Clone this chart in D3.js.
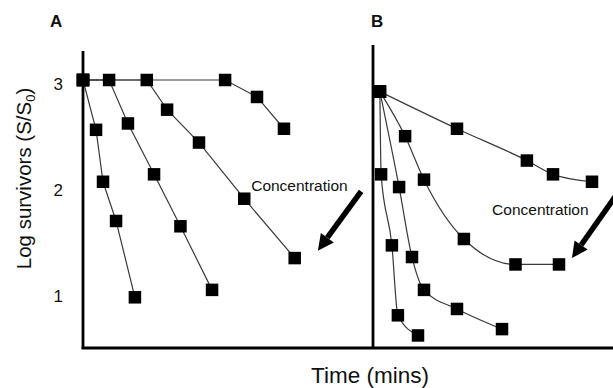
<!DOCTYPE html>
<html>
<head>
<meta charset="utf-8">
<script src="https://cdn.jsdelivr.net/npm/d3@7"></script>
<style>
  html, body { margin: 0; padding: 0; background: #fff; }
  svg { display: block; }
  text { font-family: "Liberation Sans", Arial, Helvetica, sans-serif; fill: #111; }
</style>
</head>
<body>
<svg id="chart" width="613" height="388"></svg>
<script>
// ---------- data ----------
const yTicks = [1, 2, 3];
const panelLabels = ["A", "B"];
const xAxisTitle = "Time (mins)";
const annotationText = "Concentration";

// Panel A: time (arbitrary units) and log survivors
const aSeries1T = [0, 4.5, 6.9, 11.4, 17.9];
const aSeries1V = [3, 2.53, 2.04, 1.67, 0.95];
const aSeries2T = [0, 9, 15.5, 24.5, 33.6, 44.5];
const aSeries2V = [3, 3, 2.59, 2.11, 1.62, 1.02];
const aSeries3T = [0, 22, 29, 40, 55.6, 73];
const aSeries3V = [3, 3, 2.72, 2.41, 1.88, 1.32];
const aSeries4T = [0, 49, 60, 69.3];
const aSeries4V = [3, 3, 2.84, 2.54];

// Panel B
const bSeries1T = [2.3, 28, 51.3, 60, 73];
const bSeries1V = [2.89, 2.54, 2.24, 2.11, 2.04];
const bSeries2T = [2.3, 10.7, 17, 30.3, 47.5, 62];
const bSeries2V = [2.89, 2.47, 2.06, 1.50, 1.26, 1.26];
const bSeries3T = [2.3, 8.7, 13, 17, 28, 43];
const bSeries3V = [2.89, 1.99, 1.33, 1.02, 0.84, 0.65];
const bSeries4T = [2.3, 2.7, 6.3, 8.3, 15];
const bSeries4V = [2.89, 2.11, 1.44, 0.78, 0.59];

// annotation arrows (data units: [t, v] tail -> tip)
const arrowA = [[95.9, 1.95], [81, 1.39]];
const arrowB = [[81, 1.91], [66.3, 1.32]];
const labelAPos = [58, 1.95];
const labelBPos = [39.7, 1.73];

// ---------- layout ----------
const svg = d3.select("#chart");
const yBase = 348;          // x-axis line
const yScale = d3.scaleLinear().domain([1, 3]).range([292, 80]);
const xA = d3.scaleLinear().domain([0, 100]).range([83, 373]);
const xB = d3.scaleLinear().domain([0, 80]).range([373, 613]);

const zip = (t, v) => t.map((d, i) => [d, v[i]]);
const panelA = [zip(aSeries1T, aSeries1V), zip(aSeries2T, aSeries2V), zip(aSeries3T, aSeries3V), zip(aSeries4T, aSeries4V)];
const panelB = [zip(bSeries1T, bSeries1V), zip(bSeries2T, bSeries2V), zip(bSeries3T, bSeries3V), zip(bSeries4T, bSeries4V)];

const sq = 12.5;

function drawPanel(data, xs, curve) {
  const g = svg.append("g");
  const line = d3.line().x(d => xs(d[0])).y(d => yScale(d[1])).curve(curve);
  g.selectAll("path.s").data(data).join("path")
    .attr("class", "s")
    .attr("d", line)
    .attr("fill", "none")
    .attr("stroke", "#3a3a3a")
    .attr("stroke-width", 1.2);
  g.selectAll("g.pts").data(data).join("g").attr("class", "pts")
    .selectAll("rect").data(d => d).join("rect")
    .attr("x", d => xs(d[0]) - sq / 2)
    .attr("y", d => yScale(d[1]) - sq / 2)
    .attr("width", sq).attr("height", sq)
    .attr("fill", "#000");
}

drawPanel(panelA, xA, d3.curveLinear);
drawPanel(panelB, xB, d3.curveMonotoneX);

// axes lines
svg.append("line").attr("x1", xA(0)).attr("x2", xA(0)).attr("y1", 51).attr("y2", yBase + 1)
  .attr("stroke", "#000").attr("stroke-width", 2.8);
svg.append("line").attr("x1", xB(0)).attr("x2", xB(0)).attr("y1", 45).attr("y2", yBase + 1)
  .attr("stroke", "#000").attr("stroke-width", 2.8);
svg.append("line").attr("x1", xA(0) - 1.4).attr("x2", 613).attr("y1", yBase).attr("y2", yBase)
  .attr("stroke", "#000").attr("stroke-width", 2.8);

// y tick labels via axis
const yAxis = d3.axisLeft(yScale).tickValues(yTicks).tickSize(0).tickPadding(20).tickFormat(d3.format("d"));
const ga = svg.append("g").attr("transform", `translate(${xA(0)},4)`).call(yAxis);
ga.select(".domain").remove();
ga.selectAll("text").attr("font-size", 17).style("font-family", '"Liberation Sans", Arial, sans-serif').attr("fill", "#111");

// y title
const yt = svg.append("text")
  .attr("transform", "translate(31,178.5) rotate(-90)")
  .attr("text-anchor", "middle")
  .attr("font-size", 20.5);
yt.append("tspan").text("Log survivors (S/S");
yt.append("tspan").attr("font-size", 13).attr("dy", 4).text("0");
yt.append("tspan").attr("dy", -4).text(")");

// x title
svg.append("text").attr("x", 370).attr("y", 383).attr("text-anchor", "middle")
  .attr("font-size", 22.5).text(xAxisTitle);

// panel letters
svg.append("text").attr("x", 50).attr("y", 27).attr("font-size", 17).attr("font-weight", "bold").text(panelLabels[0]);
svg.append("text").attr("x", 371).attr("y", 27).attr("font-size", 17).attr("font-weight", "bold").text(panelLabels[1]);

// annotations
svg.append("text").attr("x", xA(labelAPos[0])).attr("y", yScale(labelAPos[1])).attr("font-size", 15.5).text(annotationText);
svg.append("text").attr("x", xB(labelBPos[0])).attr("y", yScale(labelBPos[1])).attr("font-size", 15.5).text(annotationText);

function arrow(p, xs) {
  const x1 = xs(p[0][0]), y1 = yScale(p[0][1]);
  const x2 = xs(p[1][0]), y2 = yScale(p[1][1]);
  const ang = Math.atan2(y2 - y1, x2 - x1);
  const headLen = 16, headW = 8;
  const bx = x2 - headLen * Math.cos(ang), by = y2 - headLen * Math.sin(ang);
  svg.append("line").attr("x1", x1).attr("y1", y1).attr("x2", bx).attr("y2", by)
    .attr("stroke", "#000").attr("stroke-width", 5.5);
  const nx = -Math.sin(ang), ny = Math.cos(ang);
  svg.append("path")
    .attr("d", `M${x2},${y2}L${bx + nx * headW},${by + ny * headW}L${bx - nx * headW},${by - ny * headW}Z`)
    .attr("fill", "#000");
}
arrow(arrowA, xA);
arrow(arrowB, xB);
</script>
</body>
</html>
